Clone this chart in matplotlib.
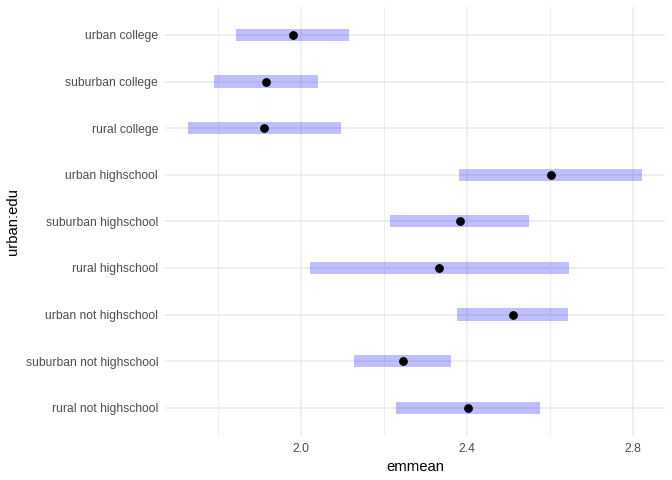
import matplotlib.pyplot as plt
import numpy as np

labels = ["rural not highschool", "suburban not highschool", "urban not highschool",
          "rural highschool", "suburban highschool", "urban highschool",
          "rural college", "suburban college", "urban college"]
emmean = [2.403, 2.245, 2.511, 2.334, 2.383, 2.602, 1.912, 1.915, 1.980]
lower = [2.229, 2.127, 2.377, 2.021, 2.215, 2.381, 1.727, 1.790, 1.843]
upper = [2.577, 2.362, 2.644, 2.646, 2.551, 2.823, 2.096, 2.040, 2.116]

plt.rcParams["font.family"] = ["Liberation Sans", "DejaVu Sans"]

W, H = 672, 480
fig = plt.figure(figsize=(W / 100, H / 100), dpi=100)
ax = fig.add_axes([165 / W, (H - 435.7) / H, 500 / W, (435.7 - 7) / H])

y = np.arange(1, len(labels) + 1)
lo = np.array(lower)
hi = np.array(upper)
ax.barh(y, hi - lo, left=lo, height=0.26, color="#0000FF", alpha=0.25,
        linewidth=0, zorder=2)
ax.plot(emmean, y, "o", color="black", markersize=5.3, zorder=3)

lo_all, hi_all = lo.min(), hi.max()
pad = (hi_all - lo_all) * 0.05
ax.set_xlim(lo_all - pad, hi_all + pad)
ax.set_ylim(0.4, len(labels) + 0.6)

ax.set_yticks(y)
ax.set_yticklabels(labels)
ax.set_xticks([2.0, 2.4, 2.8])
ax.set_xticklabels(["2.0", "2.4", "2.8"])
ax.set_xticks([1.8, 2.2, 2.6], minor=True)

for s in ax.spines.values():
    s.set_visible(False)
ax.tick_params(axis="both", which="both", length=0, colors="#4D4D4D",
               labelsize=8.7)
ax.tick_params(axis="x", pad=5)
ax.tick_params(axis="y", pad=5)
ax.grid(True, which="major", color="#EBEBEB", linewidth=1.1, zorder=0)
ax.grid(True, which="minor", axis="x", color="#EBEBEB", linewidth=0.6, zorder=0)
ax.set_axisbelow(True)

ax.set_xlabel("emmean", fontsize=10.7, color="black")
ax.set_ylabel("urban:edu", fontsize=10.7, color="black")
ax.xaxis.set_label_coords(0.5, -(467 - 435.7) / (435.7 - 7), transform=ax.transAxes)
ax.yaxis.set_label_coords(-(165 - 13) / 500, 0.5)
ax.xaxis.label.set_va("center")
ax.yaxis.label.set_va("center")

fig.savefig("out.png", dpi=100)
